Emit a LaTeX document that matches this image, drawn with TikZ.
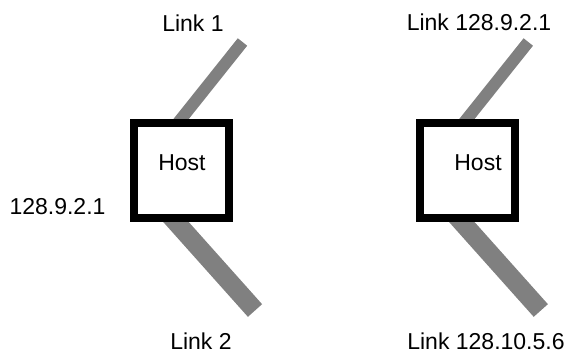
\documentclass[tikz,border=0pt]{standalone}
\usepackage{fontspec}
\setmainfont{Liberation Sans}
\usetikzlibrary{backgrounds,calc}
\begin{document}
\begin{tikzpicture}[x=1pt,y=-1pt,
  host/.style={draw=black,line width=8pt,fill=white,minimum size=95pt,inner sep=0pt},
  lbl/.style={font=\fontsize{23}{27}\selectfont,inner sep=0pt,anchor=base},
  thinlink/.style={draw=gray,line width=12pt},
  thicklink/.style={draw=gray,line width=19pt}]
  \useasboundingbox (0,0) rectangle (571,353);
  \foreach \k/\n in {0/L,285.8/R} {
   \node[host] (host\n) at (181.5+\k,170.5) {};
   \coordinate (up\n) at (242.5+\k,42);
   \coordinate (down\n) at (255+\k,310.5);
  }

  \node[lbl] (hostLtxt) at (182,171) {Host};
  \node[lbl] (hostRtxt) at (478,171) {Host};
  \node[lbl] (link1) at (193,32) {Link 1};
  \node[lbl] (link2) at (201,349) {Link 2};
  \node[lbl] (addrL) at (57.5,214) {128.9.2.1};
  \node[lbl] (linkA) at (479,31) {Link 128.9.2.1};
  \node[lbl] (linkB) at (486,349) {Link 128.10.5.6};

  \begin{scope}[on background layer]
  \foreach \n in {L,R} {
   \draw[thinlink] ($([xshift=10pt]host\n.west)!0.3!(up\n)$) -- (up\n);
   \draw[thicklink] ($(host\n.west)!0.2!(down\n)$) -- (down\n);
  }
  \end{scope}
 \end{tikzpicture}
\end{document}
